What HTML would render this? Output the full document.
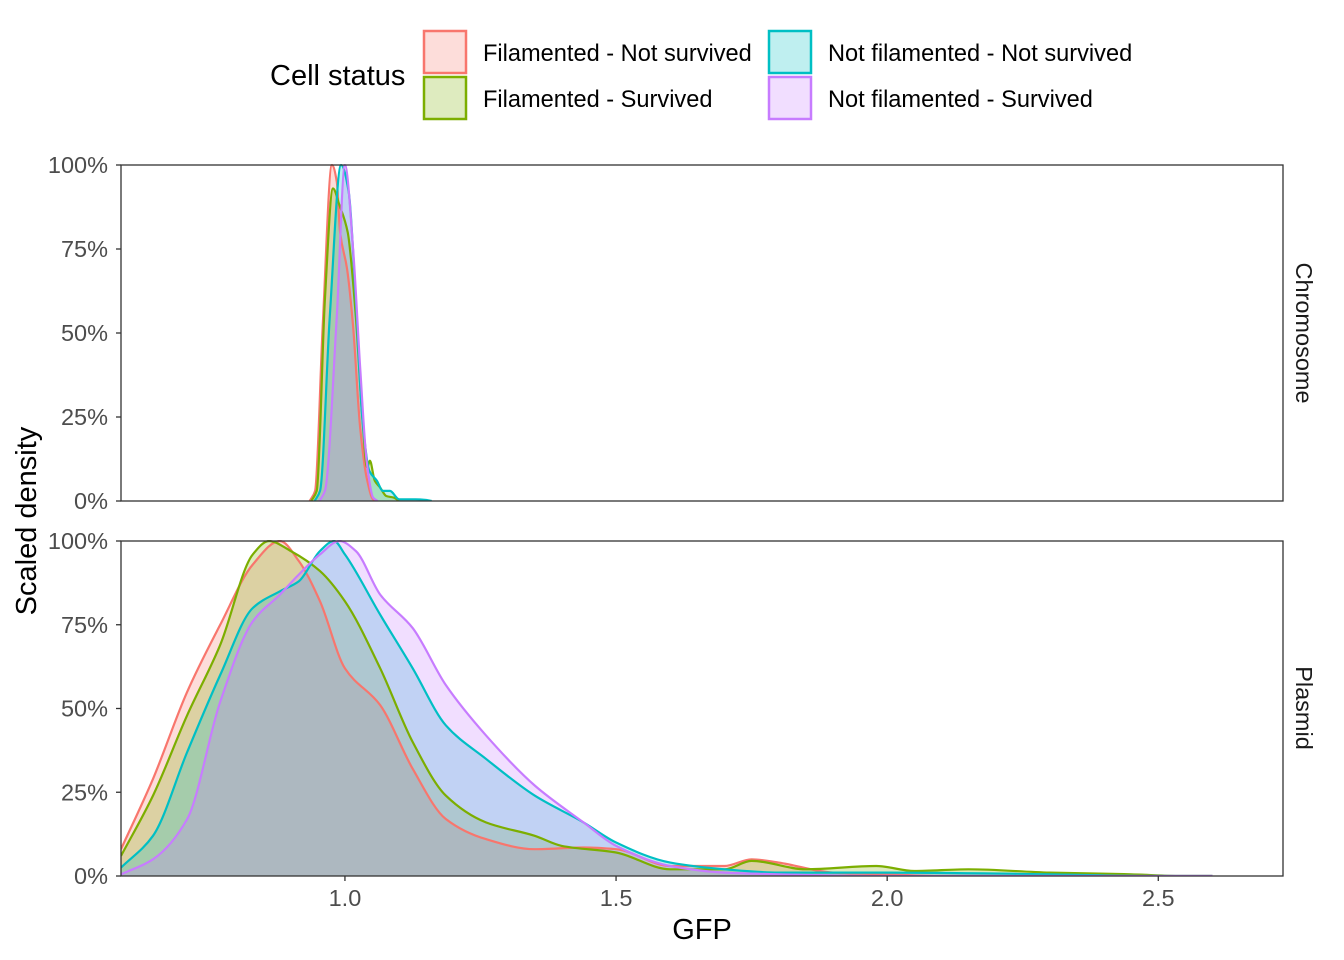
<!DOCTYPE html>
<html><head><meta charset="utf-8"><style>
body{margin:0;background:#fff;}
svg{display:block;font-family:"Liberation Sans",sans-serif;}
</style></head><body>
<svg id="chart" width="1344" height="960" xmlns="http://www.w3.org/2000/svg">
<rect width="1344" height="960" fill="#fff"/>
<g>
<text x="270" y="85" font-size="29" fill="#000">Cell status</text>
<g>
<rect x="424" y="31" width="42" height="42" fill="rgba(248,118,109,0.25)" stroke="#F8766D" stroke-width="2.5"/>
<text x="483" y="61" font-size="23.6">Filamented - Not survived</text></g>
<g>
<rect x="424" y="77" width="42" height="42" fill="rgba(124,174,0,0.25)" stroke="#7CAE00" stroke-width="2.5"/>
<text x="483" y="107" font-size="23.6">Filamented - Survived</text></g>
<g>
<rect x="769" y="31" width="42" height="42" fill="rgba(0,191,196,0.25)" stroke="#00BFC4" stroke-width="2.5"/>
<text x="828" y="61" font-size="23.6">Not filamented - Not survived</text></g>
<g>
<rect x="769" y="77" width="42" height="42" fill="rgba(199,124,255,0.25)" stroke="#C77CFF" stroke-width="2.5"/>
<text x="828" y="107" font-size="23.6">Not filamented - Survived</text></g>
</g>
<text x="702" y="939" font-size="29" text-anchor="middle">GFP</text>
<text transform="translate(36,521) rotate(-90)" font-size="29" text-anchor="middle">Scaled density</text>
<text transform="translate(1296,333) rotate(90)" font-size="23.5" fill="#1a1a1a" text-anchor="middle">Chromosome</text>
<text transform="translate(1296,708) rotate(90)" font-size="23.5" fill="#1a1a1a" text-anchor="middle">Plasmid</text>
</svg>
<script>
const seriesNames=["Filamented - Not survived","Filamented - Survived","Not filamented - Not survived","Not filamented - Survived"];
const seriesColors=["#F8766D","#7CAE00","#00BFC4","#C77CFF"];
const xTicks=[1.0,1.5,2.0,2.5];
const xTickLabels=["1.0","1.5","2.0","2.5"];
const yTicks=[0,0.25,0.5,0.75,1];
const yTickLabels=["0%","25%","50%","75%","100%"];
// Chromosome panel
const chrX=[
[0.935,0.945,0.959,0.976,0.985,0.991,1.004,1.015,1.028,1.04,1.052,1.06],
[0.938,0.948,0.963,0.978,0.990,1.005,1.02,1.032,1.041,1.046,1.055,1.065,1.076,1.09,1.1],
[0.944,0.954,0.972,0.993,1.007,1.02,1.032,1.045,1.059,1.07,1.083,1.1,1.13,1.15,1.16],
[0.953,0.963,0.985,1.0,1.015,1.028,1.04,1.052,1.06]];
const chrY=[
[0,0.03,0.52,1.0,0.95,0.80,0.69,0.52,0.22,0.07,0.005,0],
[0,0.03,0.60,0.93,0.88,0.80,0.55,0.25,0.10,0.12,0.06,0.04,0.015,0.01,0],
[0,0.03,0.55,1.0,0.92,0.60,0.25,0.09,0.06,0.03,0.03,0.005,0.005,0.003,0],
[0,0.03,0.55,1.0,0.75,0.40,0.12,0.01,0]];
// Plasmid panel
const plaX=[
[0.587,0.646,0.709,0.77,0.83,0.88,0.915,0.954,1.0,1.065,1.125,1.186,1.26,1.35,1.44,1.5,1.6,1.7,1.75,1.8,1.9,2.0,2.1,2.6],
[0.587,0.646,0.709,0.77,0.83,0.86,0.9,0.954,1.0,1.065,1.125,1.186,1.26,1.35,1.4,1.5,1.6,1.7,1.75,1.85,1.98,2.05,2.15,2.3,2.45,2.55,2.6],
[0.587,0.646,0.709,0.77,0.83,0.88,0.915,0.954,0.98,1.0,1.065,1.125,1.186,1.26,1.35,1.44,1.5,1.6,1.7,1.8,2.0,2.3,2.5,2.6],
[0.587,0.646,0.709,0.77,0.83,0.88,0.915,0.954,0.99,1.02,1.065,1.125,1.186,1.26,1.35,1.44,1.5,1.6,1.7,1.8,2.0,2.6]];
const plaY=[
[0.08,0.29,0.55,0.75,0.93,1.0,0.94,0.82,0.62,0.51,0.32,0.17,0.11,0.08,0.085,0.08,0.03,0.03,0.05,0.04,0.01,0.005,0,0],
[0.06,0.24,0.48,0.69,0.96,1.0,0.97,0.91,0.82,0.62,0.40,0.24,0.16,0.12,0.09,0.07,0.02,0.02,0.045,0.02,0.03,0.015,0.02,0.01,0.005,0,0],
[0.025,0.12,0.37,0.60,0.80,0.85,0.88,0.97,1.0,0.96,0.78,0.62,0.45,0.35,0.24,0.16,0.10,0.04,0.02,0.01,0.01,0.005,0,0],
[0.005,0.05,0.17,0.52,0.76,0.84,0.90,0.96,1.0,0.97,0.84,0.74,0.57,0.42,0.27,0.16,0.09,0.03,0.01,0.005,0,0]];

const NS="http://www.w3.org/2000/svg";
const svg=document.getElementById('chart');
const xMin=0.587,xMax=2.73,pL=121,pR=1283;
const panels=[{top:165,bot:501,xs:chrX,ys:chrY,name:'chromosome'},{top:541,bot:876,xs:plaX,ys:plaY,name:'plasmid'}];
function sx(v){return pL+(v-xMin)/(xMax-xMin)*(pR-pL);}
function mk(t,a,p){const e=document.createElementNS(NS,t);for(const k in a)e.setAttribute(k,a[k]);(p||svg).appendChild(e);return e;}
// monotone cubic (Fritsch-Carlson) in pixel space
function pathOf(pts){
 const n=pts.length,dx=[],m=[],t=[];
 for(let i=0;i<n-1;i++){dx[i]=pts[i+1][0]-pts[i][0];m[i]=(pts[i+1][1]-pts[i][1])/dx[i];}
 t[0]=m[0];t[n-1]=m[n-2];
 for(let i=1;i<n-1;i++){
  if(m[i-1]*m[i]<=0)t[i]=0;
  else{const w1=2*dx[i]+dx[i-1],w2=dx[i]+2*dx[i-1];t[i]=(w1+w2)/(w1/m[i-1]+w2/m[i]);}
 }
 let d='M'+pts[0][0].toFixed(1)+','+pts[0][1].toFixed(1);
 for(let i=0;i<n-1;i++){
  const h=dx[i]/3;
  d+=' C'+(pts[i][0]+h).toFixed(1)+','+(pts[i][1]+t[i]*h).toFixed(1)+' '+(pts[i+1][0]-h).toFixed(1)+','+(pts[i+1][1]-t[i+1]*h).toFixed(1)+' '+pts[i+1][0].toFixed(1)+','+pts[i+1][1].toFixed(1);
 }
 return d;
}
panels.forEach(P=>{
 const sy=v=>P.bot-v*(P.bot-P.top);
 const g=mk('g',{});
 
 
 const clip=mk('clipPath',{id:'clip-'+P.name},g);
 mk('rect',{x:pL,y:P.top-1,width:pR-pL,height:P.bot-P.top+1},clip);
 const fills=mk('g',{'clip-path':'url(#clip-'+P.name+')'},g);
 for(let s=0;s<4;s++){
  const pts=P.xs[s].map((x,i)=>[sx(x),sy(P.ys[s][i])]);
  const d=pathOf(pts);
  const a=mk('path',{d:d+' L'+pts[pts.length-1][0]+','+P.bot+' L'+pts[0][0]+','+P.bot+' Z',fill:seriesColors[s],'fill-opacity':0.25,stroke:'none'},fills);
  
  
 }
 for(let s=0;s<4;s++){
  const pts=P.xs[s].map((x,i)=>[sx(x),sy(P.ys[s][i])]);
  const l=mk('path',{d:pathOf(pts),fill:'none',stroke:seriesColors[s],'stroke-width':2.2},fills);
  
  
 }
 const fr=mk('rect',{x:pL,y:P.top,width:pR-pL,height:P.bot-P.top,fill:'none',stroke:'#333','stroke-width':1.3},g);
 
 
 yTicks.forEach((v,i)=>{
  mk('line',{x1:pL-5,x2:pL,y1:sy(v),y2:sy(v),stroke:'#333','stroke-width':1.3},g);
  const t=mk('text',{x:pL-13,y:sy(v)+8,'font-size':23.5,fill:'#4d4d4d','text-anchor':'end'},g);
  t.textContent=yTickLabels[i];
  
  
 });
 if(P.name==='plasmid'){
  xTicks.forEach((v,i)=>{
   mk('line',{x1:sx(v),x2:sx(v),y1:P.bot,y2:P.bot+5,stroke:'#333','stroke-width':1.3},g);
   const t=mk('text',{x:sx(v),y:P.bot+30,'font-size':23.5,fill:'#4d4d4d','text-anchor':'middle'},g);
   t.textContent=xTickLabels[i];
   
   
  });
 }
});
</script>
</body></html>
